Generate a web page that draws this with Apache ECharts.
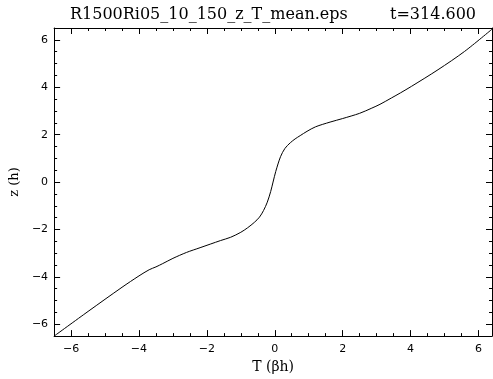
<!DOCTYPE html>
<html>
<head>
<meta charset="utf-8">
<script src="https://cdn.jsdelivr.net/npm/echarts@6/dist/echarts.min.js"></script>
<style>
html,body{margin:0;padding:0;background:#fff;}
#chart{width:493px;height:379px;}
</style>
</head>
<body>
<div id="chart"></div>
<script>
var titleLeft = 'R1500Ri05_10_150_z_T_mean.eps';
var titleRight = 't=314.600';
var xName = 'T (βh)';
var yName = 'z (h)';
var xMin = -6.5, xMax = 6.4;
var yMin = -6.5, yMax = 6.5;
var majorTicks = [-6, -4, -2, 0, 2, 4, 6];
var minorTicks = [-6.5, -5.5, -5, -4.5, -3.5, -3, -2.5, -1.5, -1, -0.5, 0.5, 1, 1.5, 2.5, 3, 3.5, 4.5, 5, 5.5, 6.5];
var tValues = [-6.5, -5.5, -4.5, -4.0, -3.7, -3.5, -3.3, -3.0, -2.6, -2.2, -1.6, -1.3, -1.0, -0.8, -0.6, -0.45, -0.33, -0.22, -0.12, -0.05, 0.03, 0.17, 0.3, 0.46, 0.6, 0.75, 0.95, 1.2, 1.63, 2.0, 2.5, 2.86, 3.1, 3.44, 3.7, 4.03, 4.81, 5.59, 6.4];
var zValues = [-6.5, -5.46, -4.44, -3.96, -3.7, -3.58, -3.44, -3.22, -2.97, -2.77, -2.47, -2.33, -2.12, -1.93, -1.7, -1.48, -1.2, -0.85, -0.4, 0.0, 0.45, 1.07, 1.42, 1.66, 1.82, 1.96, 2.14, 2.33, 2.53, 2.68, 2.9, 3.12, 3.28, 3.55, 3.76, 4.04, 4.74, 5.51, 6.45];

var pts = tValues.map(function (t, i) { return [t, zValues[i]]; });
var fmt = function (v) { return String(v).replace('-', '\u2212'); };
var lineStyle = { color: '#000', width: 1 };
var labelFont = { fontFamily: 'DejaVu Sans', fontSize: 11, color: '#000' };

function axis(pos, type, min, max, ticks, len, showLine, showLabel, extra) {
  var a = {
    type: 'value', position: pos, min: min, max: max,
    splitLine: { show: false },
    axisLine: { show: showLine, onZero: false, lineStyle: lineStyle },
    axisTick: { show: true, inside: true, length: len, customValues: ticks, lineStyle: lineStyle },
    axisLabel: showLabel ? Object.assign({ customValues: ticks, formatter: fmt }, labelFont, extra || {}) : { show: false }
  };
  return a;
}

var chart = echarts.init(document.getElementById('chart'), null, { renderer: 'canvas' });
var xa0 = axis('bottom', 'x', xMin, xMax, majorTicks, 6, true, true, { margin: 8 });
xa0.name = xName; xa0.nameLocation = 'middle'; xa0.nameGap = 15;
xa0.nameTextStyle = { fontFamily: 'DejaVu Serif', fontSize: 14, color: '#000', verticalAlign: 'top' };
var ya0 = axis('left', 'y', yMin, yMax, majorTicks, 6, true, true, { margin: 6 });
ya0.name = yName; ya0.nameLocation = 'middle'; ya0.nameGap = 37;
ya0.nameTextStyle = { fontFamily: 'DejaVu Serif', fontSize: 13, color: '#000', verticalAlign: 'middle' };

var titleStyle = { fontFamily: 'DejaVu Serif', fontSize: 16, fontWeight: 'normal', color: '#000' };
chart.setOption({
  animation: false,
  backgroundColor: '#fff',
  title: [
    { text: titleLeft, left: 70, top: 7, padding: 0, textStyle: titleStyle },
    { text: titleRight, left: 390, top: 7, padding: 0, textStyle: titleStyle }
  ],
  grid: { left: 52, top: 28, right: 1, bottom: 42 },
  xAxis: [
    xa0,
    axis('bottom', 'x', xMin, xMax, minorTicks, 3, false, false),
    axis('top', 'x', xMin, xMax, majorTicks, 6, true, false),
    axis('top', 'x', xMin, xMax, minorTicks, 3, false, false)
  ],
  yAxis: [
    ya0,
    axis('left', 'y', yMin, yMax, minorTicks, 3, false, false),
    axis('right', 'y', yMin, yMax, majorTicks, 6, true, false),
    axis('right', 'y', yMin, yMax, minorTicks, 3, false, false)
  ],
  series: [{
    type: 'line', data: pts, xAxisIndex: 0, yAxisIndex: 0,
    showSymbol: false, smooth: 0.3,
    lineStyle: { color: '#000', width: 1 }, clip: true
  }]
});
</script>
</body>
</html>
